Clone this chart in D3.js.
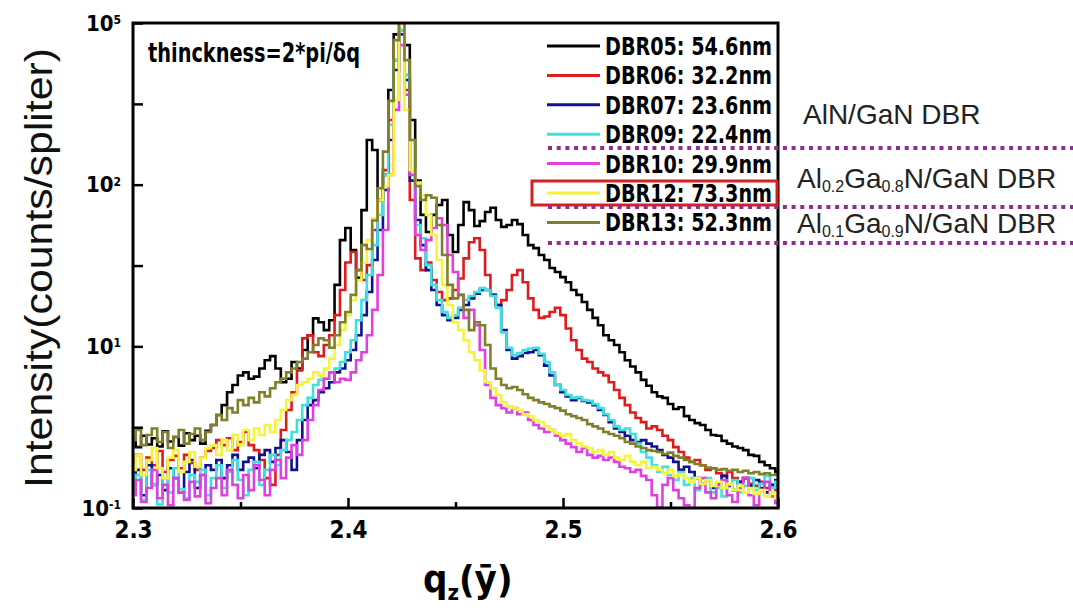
<!DOCTYPE html>
<meta charset="utf-8">
<style>
    body { margin: 0; background: #fff; }
    .narrow { font-family: "Liberation Sans Narrow", "Arial Narrow", "DejaVu Sans Condensed", "Liberation Sans", sans-serif; font-weight: bold; }
    .plain { font-family: "Liberation Sans", Arial, sans-serif; }
</style>
<svg width="1073" height="610"></svg>
<script src="https://d3js.org/d3.v7.min.js"></script>
<script>

    var svg = d3.select("svg");

    // scan: q from 2.3 to 2.6, one sample every 0.0025
    var qValues = d3.range(121).map(function (i) { return 2.3 + i * 0.0025; });

    var names = ["DBR05: 54.6nm", "DBR06: 32.2nm", "DBR07: 23.6nm", "DBR09: 22.4nm",
                 "DBR10: 29.9nm", "DBR12: 73.3nm", "DBR13: 52.3nm"];
    var colors = ["#000000", "#e01b1b", "#101090", "#3ee0e0", "#e040e0", "#f4f43a", "#80802a"];

    var dbr05 = [2.63, 2.38, 2.8, 2.47, 2.7, 2.4, 2.98, 2.58, 2.75, 2.43,
        2.9, 2.63, 2.8, 2.5, 3.0, 3.26, 3.76, 4.33, 5.2, 5.77,
        6.6, 6.9, 6.3, 6.5, 7.3, 8.2, 8.7, 7.3, 6.0, 6.3,
        8.0, 7.3, 9.5, 11.7, 14.9, 14.1, 12.6, 14.5, 24, 45.4,
        54, 39.4, 26.5, 69.6, 189, 164, 80.3, 115, 385, 850,
        1040, 730, 251, 106, 65, 51, 65, 74.8, 80.3, 48.8,
        38.3, 56.3, 78, 69.6, 55.5, 59.5, 67.7, 72, 60.4, 54.8,
        56.3, 60.4, 57, 48.8, 42.3, 40.5, 36.7, 34.2, 30.5, 28.8,
        26.8, 24.9, 22.3, 20.8, 18.8, 16.8, 15, 13.5, 11.7, 10.9,
        10.2, 9.2, 8.2, 7.5, 6.9, 6.2, 5.7, 5.2, 4.9, 4.8,
        4.4, 4.1, 4.2, 3.7, 3.5, 3.35, 3.26, 3.04, 2.83, 2.8,
        2.6, 2.5, 2.4, 2.35, 2.28, 2.13, 2.1, 1.93, 1.84, 1.76,
        1.67];
    var dbr06 = [1.9, 2.13, 1.72, 2.05, 1.84, 2.25, 1.67, 1.98, 2.1, 1.76,
        2.13, 1.9, 1.72, 2.05, 2.25, 2.35, 2.63, 2.45, 2.7, 2.28,
        2.56, 2.95, 2.45, 2.28, 1.98, 1.53, 1.39, 2.13, 3.04, 4.04,
        5.2, 7.1, 11.2, 11.7, 9.2, 8.7, 10.2, 11.7, 15.6, 22.3,
        33, 38.3, 29.6, 25.7, 31.8, 52.4, 80.3, 123, 251, 589,
        903, 385, 80.3, 35, 29.6, 33, 25.7, 21.7, 19.3, 19.8,
        22.3, 26.3, 35, 44, 46.6, 39.4, 27.6, 20.8, 18, 19.3,
        22.3, 27.6, 29.6, 24.9, 19.8, 16.8, 15, 15.3, 16.3, 17.3,
        15.6, 12.9, 10.9, 9.5, 8.4, 8.0, 7.3, 6.9, 6.6, 6.0,
        5.37, 4.8, 4.33, 3.9, 3.6, 3.4, 3.1, 3.2, 3.04, 2.8,
        2.63, 2.38, 2.22, 2.05, 1.93, 1.98, 1.84, 1.72, 1.76, 1.64,
        1.58, 1.67, 1.53, 1.45, 1.53, 1.41, 1.37, 1.45, 1.33, 1.39,
        1.29];
    var dbr07 = [1.49, 1.72, 1.2, 1.84, 1.39, 1.6, 1.29, 1.76, 1.53, 1.25,
        1.67, 1.98, 1.33, 1.6, 1.84, 1.72, 1.98, 1.53, 1.84, 2.13,
        1.72, 1.93, 2.05, 1.76, 2.13, 2.28, 1.93, 2.35, 2.63, 2.22,
        1.72, 2.63, 3.5, 4.33, 4.65, 5.2, 5.5, 6.0, 6.9, 7.3,
        8.2, 9.5, 11.7, 15.6, 21.7, 34.2, 52.4, 92.6, 189, 512,
        850, 444, 106, 60.4, 42.3, 29.6, 22.3, 18, 15.6, 14.5,
        15, 16.8, 18, 19.8, 21.2, 22.3, 22.3, 20.8, 18, 12.6,
        9.5, 8.4, 8.7, 9.1, 9.2, 9.5, 8.8, 7.6, 6.6, 5.77,
        5.2, 4.9, 4.65, 4.8, 4.6, 4.5, 4.33, 4.04, 3.76, 3.4,
        3.1, 2.95, 2.8, 2.63, 2.56, 2.63, 2.5, 2.4, 2.28, 2.13,
        2.05, 1.93, 1.72, 1.8, 1.67, 1.53, 1.41, 1.49, 1.33, 1.41,
        1.58, 1.37, 1.29, 1.45, 1.53, 1.37, 1.49, 1.33, 1.25, 1.39,
        1.49];
    var dbr09 = [1.29, 1.6, 1.12, 1.72, 1.39, 1.05, 1.53, 1.25, 1.76, 1.31,
        1.15, 1.6, 1.45, 1.72, 1.2, 1.53, 1.84, 1.33, 1.67, 1.98,
        1.49, 1.2, 1.72, 1.93, 1.39, 1.72, 2.13, 1.84, 2.28, 2.63,
        2.95, 3.5, 4.33, 4.8, 5.77, 6.2, 6.3, 6.9, 7.3, 8.0,
        9.2, 10.9, 14.5, 19.3, 27.6, 42.3, 65, 115, 235, 589,
        903, 478, 123, 56.3, 46.6, 31.8, 24, 19.3, 16.3, 15,
        15.6, 17.3, 19.3, 20.5, 21.7, 22.9, 22.3, 20.5, 17.3, 12.2,
        9.8, 8.8, 9.1, 9.5, 9.7, 9.8, 9.0, 8.0, 6.9, 5.8,
        5.37, 5.0, 4.8, 4.85, 4.65, 4.6, 4.4, 4.15, 3.8, 3.5,
        3.2, 3.04, 3.1, 2.87, 2.5, 2.22, 2.05, 1.84, 1.67, 1.8,
        1.6, 1.49, 1.67, 1.39, 1.53, 1.29, 1.41, 1.53, 1.25, 1.33,
        1.18, 1.39, 1.49, 1.25, 1.37, 1.53, 1.29, 1.41, 1.58, 1.33,
        1.45];
    var dbr10 = [1.2, 1.49, 1.09, 1.33, 1.72, 1.15, 1.39, 1.04, 1.53, 1.25,
        1.12, 1.45, 1.18, 1.6, 1.07, 1.33, 1.53, 1.2, 1.72, 1.39,
        1.15, 1.6, 1.29, 1.84, 1.49, 1.2, 1.72, 1.98, 1.53, 2.05,
        2.45, 2.13, 2.63, 3.5, 4.33, 5.37, 6.3, 6.9, 6.0, 6.3,
        6.2, 6.9, 8.2, 9.2, 11.7, 16.8, 27.6, 52.4, 115, 290,
        730, 360, 115, 48.8, 39.4, 45.4, 54, 62, 56.3, 36.7,
        28.8, 20.8, 15, 16.8, 13.5, 9.5, 5.77, 4.8, 4.33, 4.15,
        3.9, 4.15, 3.8, 3.9, 3.5, 3.26, 3.1, 2.95, 3.04, 2.8,
        2.63, 2.5, 2.38, 2.22, 2.35, 2.13, 2.05, 2.1, 1.98, 2.05,
        1.93, 1.8, 1.76, 1.67, 1.72, 1.58, 1.49, 1.2, 1.01, 1.39,
        1.53, 1.29, 1.15, 1.04, 1.0, 1.33, 1.53, 1.25, 1.15, 1.39,
        1.49, 1.2, 1.09, 1.33, 1.53, 1.2, 1.04, 1.29, 1.45, 1.18,
        1.07];
    var dbr12 = [1.72, 2.13, 1.6, 1.98, 2.35, 1.76, 1.53, 2.05, 2.28, 1.67,
        1.93, 2.22, 1.8, 2.05, 2.35, 2.45, 2.13, 2.63, 2.28, 2.83,
        2.45, 3.04, 2.63, 3.1, 2.83, 3.26, 2.95, 3.5, 4.04, 4.65,
        5.0, 5.77, 6.0, 6.3, 6.9, 6.6, 7.3, 8.4, 10.2, 12.6,
        15.6, 19.3, 25.7, 33, 45.4, 62, 80.3, 98, 115, 334,
        980, 290, 123, 103, 86, 65, 48.8, 34.2, 24, 18,
        14.1, 12.6, 10.9, 9.2, 8.2, 7.1, 6.0, 5.5, 5.0, 4.5,
        4.25, 4.15, 4.04, 3.8, 3.7, 3.5, 3.4, 3.2, 3.04, 2.9,
        2.8, 2.87, 2.63, 2.5, 2.4, 2.35, 2.22, 2.28, 2.13, 2.22,
        2.05, 1.98, 2.1, 1.93, 1.84, 1.93, 1.76, 1.8, 1.72, 1.64,
        1.72, 1.58, 1.62, 1.53, 1.45, 1.53, 1.41, 1.49, 1.37, 1.45,
        1.33, 1.41, 1.29, 1.37, 1.25, 1.33, 1.22, 1.29, 1.18, 1.25,
        1.15];
    var dbr13 = [2.63, 3.04, 2.45, 2.83, 3.1, 2.56, 2.95, 2.35, 2.75, 3.04,
        2.5, 2.87, 3.1, 2.63, 2.95, 3.26, 3.76, 3.5, 4.15, 3.9,
        4.65, 4.33, 4.8, 4.5, 5.2, 4.9, 5.5, 6.0, 6.3, 6.9,
        7.3, 8.0, 8.4, 9.2, 10.2, 11.2, 10.9, 9.8, 11.7, 14.1,
        16.3, 20.8, 29.6, 42.3, 40, 60, 95, 160, 330, 784,
        1040, 589, 189, 98, 80.3, 86, 83, 56.3, 36.7, 24,
        19.8, 20.8, 16.8, 12.6, 14.1, 13.5, 10.2, 7.3, 6.3, 5.77,
        5.5, 5.6, 5.37, 5.05, 4.8, 4.65, 4.5, 4.4, 4.25, 4.15,
        4.0, 3.8, 3.7, 3.6, 3.5, 3.3, 3.2, 3.1, 2.95, 2.87,
        2.8, 2.7, 2.56, 2.5, 2.4, 2.35, 2.28, 2.25, 2.22, 2.16,
        2.2, 2.1, 2.05, 1.98, 1.93, 1.87, 1.84, 1.78, 1.76, 1.72,
        1.74, 1.7, 1.72, 1.67, 1.7, 1.64, 1.67, 1.62, 1.64, 1.6,
        1.62];

    var series = [dbr05, dbr06, dbr07, dbr09, dbr10, dbr12, dbr13];

    var xTicks = [2.3, 2.4, 2.5, 2.6];
    var xMinorTicks = [2.35, 2.45, 2.55];
    var yTicks = [1, 10, 100, 1000];
    var yTickExp = ["-1", "1", "2", "5"];
    var yMinorTicks = [3.16, 31.6, 316];

    var groupNames = ["AlN/GaN DBR"];

    var plotLeft = 133, plotRight = 778, plotTop = 23, plotBottom = 508;

    var x = d3.scaleLinear().domain([2.3, 2.6]).range([plotLeft, plotRight]);
    var y = d3.scaleLog().domain([1, 1000]).range([plotBottom, plotTop]);

    svg.append("clipPath").attr("id", "plotclip")
        .append("rect")
        .attr("x", plotLeft).attr("y", plotTop)
        .attr("width", plotRight - plotLeft).attr("height", plotBottom - plotTop);

    // step curve gives the jagged counting look of the scan
    var line = d3.line()
        .curve(d3.curveStep)
        .x(function (d, i) { return x(qValues[i]); })
        .y(function (d) { return y(d); });

    svg.append("g")
        .attr("clip-path", "url(#plotclip)")
        .selectAll("path")
        .data(series)
        .enter().append("path")
        .attr("d", line)
        .attr("fill", "none")
        .attr("stroke", function (d, i) { return colors[i]; })
        .attr("stroke-width", 2.6)
        .attr("stroke-linejoin", "miter");

    // frame
    svg.append("rect")
        .attr("x", plotLeft).attr("y", plotTop)
        .attr("width", plotRight - plotLeft).attr("height", plotBottom - plotTop)
        .attr("fill", "none").attr("stroke", "#000").attr("stroke-width", 3);

    // x axis
    var gx = svg.append("g")
        .attr("class", "narrow")
        .attr("transform", "translate(0," + plotBottom + ")")
        .call(d3.axisBottom(x)
            .tickValues(xTicks)
            .tickSizeInner(-10).tickSizeOuter(0)
            .tickPadding(13)
            .tickFormat(d3.format(".1f")));
    gx.select(".domain").remove();
    gx.selectAll("line").attr("stroke-width", 2.5);
    gx.selectAll("text").attr("font-size", 24).attr("fill", "#000")
        .attr("font-family", null);

    var gxm = svg.append("g")
        .attr("transform", "translate(0," + plotBottom + ")")
        .call(d3.axisBottom(x).tickValues(xMinorTicks)
            .tickSizeInner(-6).tickSizeOuter(0).tickFormat(""));
    gxm.select(".domain").remove();
    gxm.selectAll("line").attr("stroke-width", 2.5);

    // y axis
    var gy = svg.append("g")
        .attr("class", "narrow")
        .attr("transform", "translate(" + plotLeft + ",0)")
        .call(d3.axisLeft(y)
            .tickValues(yTicks)
            .tickSizeInner(-10).tickSizeOuter(0)
            .tickPadding(12)
            .tickFormat(function () { return ""; }));
    gy.select(".domain").remove();
    gy.selectAll("line").attr("stroke-width", 2.5);
    gy.selectAll("text")
        .attr("font-family", null)
        .attr("font-size", 22).attr("fill", "#000")
        .each(function (d, i) {
            var t = d3.select(this);
            t.append("tspan").text("10");
            t.append("tspan").attr("dy", "-0.55em").attr("font-size", 12).text(yTickExp[i]);
        });

    var gym = svg.append("g")
        .attr("transform", "translate(" + plotLeft + ",0)")
        .call(d3.axisLeft(y).tickValues(yMinorTicks)
            .tickSizeInner(-10).tickSizeOuter(0).tickFormat(""));
    gym.select(".domain").remove();
    gym.selectAll("line").attr("stroke-width", 2.5);

    // axis titles
    svg.append("text")
        .attr("class", "plain")
        .attr("transform", "translate(52,268) rotate(-90)")
        .attr("text-anchor", "middle")
        .attr("font-size", 38)
        .attr("fill", "#111")
        .attr("textLength", 440)
        .attr("lengthAdjust", "spacingAndGlyphs")
        .text("Intensity(counts/spliter)");

    var xt = svg.append("text")
        .attr("class", "narrow")
        .attr("x", 423).attr("y", 592)
        .attr("font-size", 38).attr("fill", "#000");
    xt.append("tspan").text("q");
    xt.append("tspan").attr("font-size", 22).attr("dy", 8).text("z");
    xt.append("tspan").attr("dy", -8).text("(ȳ)");

    // note inside the plot
    svg.append("text")
        .attr("class", "narrow")
        .attr("x", 148).attr("y", 62)
        .attr("font-size", 26)
        .attr("textLength", 212)
        .attr("lengthAdjust", "spacingAndGlyphs")
        .text("thinckness=2*pi/δq");

    // legend
    var legend = svg.append("g").attr("class", "legend");
    var rowY = function (i) { return 46 + i * 29.4; };
    legend.selectAll("line")
        .data(names)
        .enter().append("line")
        .attr("x1", 547).attr("x2", 600)
        .attr("y1", function (d, i) { return rowY(i); })
        .attr("y2", function (d, i) { return rowY(i); })
        .attr("stroke", function (d, i) { return colors[i]; })
        .attr("stroke-width", 3);
    legend.selectAll("text")
        .data(names)
        .enter().append("text")
        .attr("class", "narrow")
        .attr("x", 605)
        .attr("y", function (d, i) { return rowY(i) + 9; })
        .attr("font-size", 25)
        .attr("textLength", 167)
        .attr("lengthAdjust", "spacingAndGlyphs")
        .text(function (d) { return d; });

    // box around DBR12
    svg.append("rect")
        .attr("x", 532).attr("y", rowY(5) - 12)
        .attr("width", 245).attr("height", 24)
        .attr("fill", "none").attr("stroke", "#d42020").attr("stroke-width", 3);

    // dotted separators
    svg.selectAll(".sep")
        .data([148, 207, 243])
        .enter().append("line")
        .attr("class", "sep")
        .attr("x1", 548).attr("x2", 1073)
        .attr("y1", function (d) { return d; })
        .attr("y2", function (d) { return d; })
        .attr("stroke", "#922b92")
        .attr("stroke-width", 4)
        .attr("stroke-dasharray", "4,4.7");

    // group labels
    svg.append("text")
        .attr("class", "plain")
        .attr("x", 803).attr("y", 124)
        .attr("font-size", 28).attr("fill", "#222")
        .text(groupNames[0]);

    function alloyLabel(yPos, xa, xg) {
        var t = svg.append("text")
            .attr("class", "plain")
            .attr("x", 797).attr("y", yPos)
            .attr("font-size", 28).attr("fill", "#222");
        t.append("tspan").text("Al");
        t.append("tspan").attr("font-size", 16).attr("dy", 4).text(xa);
        t.append("tspan").attr("dy", -4).text("Ga");
        t.append("tspan").attr("font-size", 16).attr("dy", 4).text(xg);
        t.append("tspan").attr("dy", -4).text("N/GaN DBR");
    }
    alloyLabel(188, "0.2", "0.8");
    alloyLabel(233, "0.1", "0.9");

</script>
